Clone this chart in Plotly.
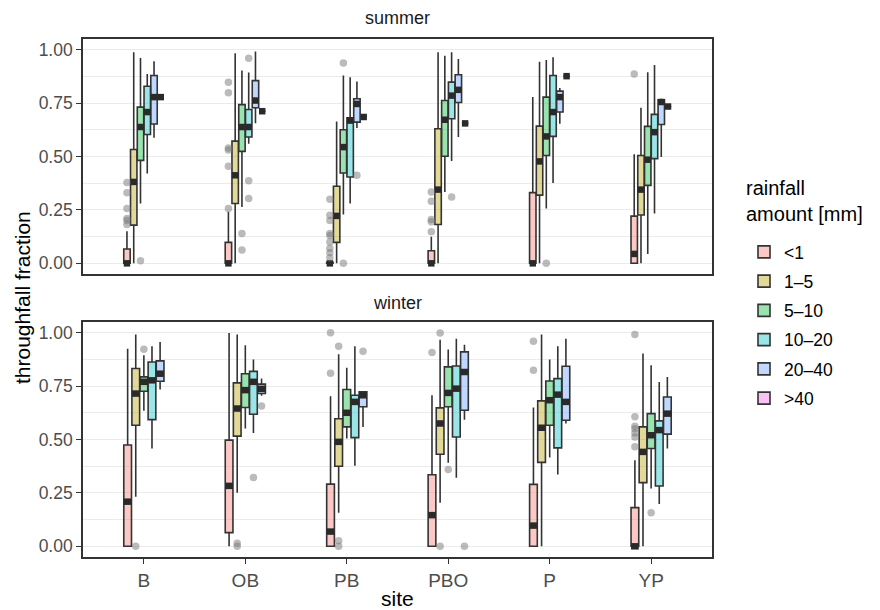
import plotly.graph_objects as go

sites = ["B", "OB", "PB", "PBO", "P", "YP"]
categories = ["<1", "1–5", "5–10", "10–20", "20–40", ">40"]
fill_colors = ["rgba(248,118,109,0.4)", "rgba(183,159,0,0.4)", "rgba(0,186,56,0.4)",
               "rgba(0,191,196,0.4)", "rgba(97,156,255,0.4)", "rgba(245,100,227,0.4)"]
y_tick_vals = [0, 0.25, 0.5, 0.75, 1.0]
y_tick_labels = ["0.00", "0.25", "0.50", "0.75", "1.00"]

# ---- summer: one row per rainfall category, one column per site ----
summer_q1 = [
    [0, 0, 0, 0, 0, 0],
    [0.179, 0.28, 0.098, 0.182, 0.319, 0.226],
    [0.482, 0.524, 0.423, 0.501, 0.505, 0.365],
    [0.603, 0.591, 0.404, 0.677, 0.594, 0.49],
    [0.652, 0.728, 0.661, 0.753, 0.708, 0.65],
    [0.778, 0.712, 0.685, 0.655, 0.876, 0.734],
]
summer_median = [
    [0, 0, 0, 0, 0, 0.044],
    [0.381, 0.412, 0.222, 0.345, 0.477, 0.345],
    [0.638, 0.638, 0.544, 0.672, 0.594, 0.485],
    [0.708, 0.638, 0.668, 0.785, 0.708, 0.614],
    [0.778, 0.762, 0.746, 0.812, 0.778, 0.755],
    [0.778, 0.712, 0.685, 0.655, 0.876, 0.734],
]
summer_q3 = [
    [0.067, 0.098, 0.005, 0.059, 0.331, 0.221],
    [0.533, 0.572, 0.361, 0.63, 0.642, 0.505],
    [0.731, 0.743, 0.625, 0.762, 0.778, 0.641],
    [0.829, 0.72, 0.681, 0.848, 0.879, 0.697],
    [0.879, 0.855, 0.77, 0.883, 0.806, 0.765],
    [0.778, 0.712, 0.685, 0.655, 0.876, 0.734],
]
summer_low = [
    [0, 0, 0, 0, 0, 0],
    [0, 0, 0, 0, 0, 0],
    [0.28, 0.264, 0.229, 0.334, 0.257, 0.044],
    [0.42, 0.56, 0.28, 0.479, 0.376, 0.233],
    [0.588, 0.656, 0.633, 0.591, 0.653, 0.498],
    [0.778, 0.712, 0.685, 0.655, 0.876, 0.734],
]
summer_high = [
    [0.15, 0.241, 0.01, 0.124, 0.778, 0.51],
    [0.988, 0.983, 0.664, 0.988, 0.944, 0.728],
    [0.961, 0.902, 0.879, 0.972, 0.952, 0.894],
    [0.886, 0.893, 0.871, 0.988, 0.964, 0.928],
    [0.946, 0.992, 0.851, 0.956, 0.821, 0.77],
    [0.778, 0.712, 0.685, 0.655, 0.876, 0.734],
]
summer_out_site = ["B"] * 6 + ["B"] + ["OB"] * 6 + ["OB"] * 2 + ["OB"] * 3 + ["PB"] * 9 + ["PB"] * 2 + ["PB"] \
    + ["PBO"] * 5 + ["PBO"] + ["P"] + ["YP"]
summer_out_cat = [0] * 6 + [2] + [0] * 6 + [2] * 2 + [3] * 3 + [0] * 9 + [2] * 2 + [4] \
    + [0] * 5 + [3] + [2] + [0]
summer_out_value = [0.378, 0.33, 0.257, 0.21, 0.2, 0.182,
                    0.012,
                    0.848, 0.798, 0.54, 0.53, 0.454, 0.257,
                    0.14, 0.062,
                    0.96, 0.386, 0.303,
                    0.30, 0.225, 0.2, 0.14, 0.13, 0.1, 0.07, 0.05, 0.026,
                    0.938, 0.0,
                    0.412,
                    0.334, 0.291, 0.205, 0.194, 0.148,
                    0.311,
                    0.0,
                    0.886]

# ---- winter (no >40 events) ----
winter_q1 = [
    [0, 0.064, 0, 0, 0, 0],
    [0.567, 0.516, 0.375, 0.431, 0.393, 0.298],
    [0.726, 0.65, 0.559, 0.653, 0.567, 0.458],
    [0.593, 0.618, 0.509, 0.512, 0.461, 0.282],
    [0.773, 0.715, 0.653, 0.637, 0.59, 0.525],
]
winter_median = [
    [0.209, 0.283, 0.069, 0.146, 0.097, 0.0],
    [0.715, 0.645, 0.489, 0.575, 0.555, 0.442],
    [0.77, 0.731, 0.625, 0.718, 0.684, 0.52],
    [0.777, 0.77, 0.676, 0.738, 0.71, 0.544],
    [0.808, 0.737, 0.707, 0.816, 0.676, 0.621],
]
winter_q3 = [
    [0.474, 0.497, 0.291, 0.335, 0.29, 0.181],
    [0.832, 0.765, 0.597, 0.648, 0.681, 0.559],
    [0.793, 0.808, 0.734, 0.84, 0.774, 0.621],
    [0.863, 0.819, 0.707, 0.844, 0.785, 0.587],
    [0.868, 0.759, 0.723, 0.91, 0.843, 0.699],
]
winter_low = [
    [0, 0, 0, 0, 0, 0],
    [0.232, 0.251, 0.157, 0.204, 0, 0],
    [0.634, 0.551, 0.505, 0.391, 0.416, 0.271],
    [0.458, 0.531, 0.377, 0.321, 0.336, 0.198],
    [0.734, 0.705, 0.559, 0.593, 0.575, 0.458],
]
winter_high = [
    [0.925, 0.998, 0.703, 0.707, 0.65, 0.403],
    [0.991, 0.992, 0.899, 0.967, 0.991, 0.902],
    [0.894, 0.941, 0.836, 0.921, 0.874, 0.847],
    [0.936, 0.874, 0.936, 0.972, 0.936, 0.769],
    [0.956, 0.785, 0.725, 0.944, 0.972, 0.793],
]
winter_out_site = ["B", "B", "OB", "OB", "OB", "OB", "PB", "PB", "PB", "PB", "PB", "PB",
                   "PBO", "PBO", "PBO", "PBO", "PBO", "P", "P",
                   "YP", "YP", "YP", "YP", "YP", "YP", "YP", "YP"]
winter_out_cat = [1, 2, 1, 1, 3, 4, 0, 0, 1, 1, 1, 4,
                  0, 1, 1, 2, 4, 0, 0,
                  0, 0, 0, 0, 0, 0, 0, 2]
winter_out_value = [0.0, 0.922, 0.014, 0.0, 0.322, 0.657, 1.0, 0.81, 0.936, 0.026, 0.0, 0.913,
                    0.907, 0.998, 0.0, 0.36, 0.0, 0.96, 0.824,
                    0.991, 0.606, 0.562, 0.55, 0.531, 0.512, 0.466, 0.157]

DODGE = 0.4
FONT = "Liberation Sans, Arial, Helvetica, sans-serif"
LINE = "#333333"


def slot_pos(site_idx, k, n):
    return site_idx + (k - (n - 1) / 2) * DODGE / n


fig = go.Figure()

seasons = [
    ("x", "y", summer_q1, summer_median, summer_q3, summer_low, summer_high,
     summer_out_site, summer_out_cat, summer_out_value, True),
    ("x2", "y2", winter_q1, winter_median, winter_q3, winter_low, winter_high,
     winter_out_site, winter_out_cat, winter_out_value, False),
]

for xa, ya, q1s, meds, q3s, lows, highs, o_site, o_cat, o_val, show_leg in seasons:
    n = len(q1s)
    w = DODGE / n * 0.95
    med_x, med_y = [], []
    for k in range(n):
        xs = [slot_pos(i, k, n) for i in range(len(sites))]
        fig.add_trace(go.Box(
            x=xs, q1=q1s[k], median=meds[k], q3=q3s[k],
            lowerfence=lows[k], upperfence=highs[k],
            width=w, whiskerwidth=0, boxpoints=False,
            fillcolor=fill_colors[k], line=dict(color=LINE, width=1.6),
            name=categories[k], legendgroup=categories[k], showlegend=show_leg,
            xaxis=xa, yaxis=ya, hoverinfo="skip",
        ))
        for i, xv in enumerate(xs):
            med_x += [xv - w / 2, xv + w / 2, None]
            med_y += [meds[k][i], meds[k][i], None]
    fig.add_trace(go.Scatter(
        x=med_x, y=med_y, mode="lines", line=dict(color="#2a2a2a", width=6.5),
        showlegend=False, xaxis=xa, yaxis=ya, hoverinfo="skip",
    ))
    fig.add_trace(go.Scatter(
        x=[slot_pos(sites.index(s), c, n) for s, c in zip(o_site, o_cat)],
        y=o_val, mode="markers",
        marker=dict(color="rgba(120,120,120,0.5)", size=7.5, line=dict(width=0)),
        showlegend=False, xaxis=xa, yaxis=ya, hoverinfo="skip",
    ))

axis_common = dict(
    showline=True, mirror=True, linecolor=LINE, linewidth=1.6,
    ticks="outside", ticklen=5, tickcolor=LINE, tickwidth=1.4,
    tickfont=dict(family=FONT, size=17.5, color="#4D4D4D"), zeroline=False,
)
yaxis_cfg = dict(
    axis_common, range=[-0.05, 1.05], tickvals=y_tick_vals, ticktext=y_tick_labels,
    showgrid=True, gridcolor="#EBEBEB", gridwidth=1.4,
    minor=dict(tickvals=[0.125, 0.375, 0.625, 0.875], showgrid=True,
               gridcolor="#EBEBEB", gridwidth=1.2, ticks=""),
)
xaxis_cfg = dict(axis_common, range=[-0.6, 5.6], tickvals=list(range(len(sites))),
                 ticktext=sites, showgrid=False)

top_bottom = (557 - 274) / 518
bot_top = (557 - 322) / 518


def py(pix):
    return (557 - pix) / 518


def px(pix):
    return (pix - 83) / 629


fig.update_layout(
    width=880, height=610,
    margin=dict(l=83, r=168, t=39, b=53),
    paper_bgcolor="white", plot_bgcolor="white",
    font=dict(family=FONT, color="#1A1A1A"),
    xaxis=dict(xaxis_cfg, anchor="y", showticklabels=False, ticks=""),
    yaxis=dict(yaxis_cfg, anchor="x", domain=[top_bottom, 1]),
    xaxis2=dict(xaxis_cfg, anchor="y2", tickfont=dict(family=FONT, size=19, color="#4D4D4D")),
    yaxis2=dict(yaxis_cfg, anchor="x2", domain=[0, bot_top]),
    legend=dict(
        x=px(744), xanchor="left", y=py(234), yanchor="top",
        font=dict(family=FONT, size=17.5, color="#000000"),
        tracegroupgap=3.5, bgcolor="rgba(0,0,0,0)",
    ),
    annotations=[
        dict(text="summer", x=0.5, y=py(18), xref="paper", yref="paper", yanchor="middle",
             showarrow=False, font=dict(family=FONT, size=18, color="#1A1A1A")),
        dict(text="winter", x=0.5, y=py(303), xref="paper", yref="paper", yanchor="middle",
             showarrow=False, font=dict(family=FONT, size=18, color="#1A1A1A")),
        dict(text="site", x=0.5, y=py(598), xref="paper", yref="paper", yanchor="middle",
             showarrow=False, font=dict(family=FONT, size=21, color="#000000")),
        dict(text="throughfall fraction", x=px(22), y=0.5, xref="paper", yref="paper",
             xanchor="center", yanchor="middle",
             textangle=-90, showarrow=False, font=dict(family=FONT, size=21, color="#000000")),
        dict(text="rainfall<br>amount [mm]", x=px(744), y=py(201), xref="paper", yref="paper",
             xanchor="left", yanchor="middle", align="left",
             showarrow=False, font=dict(family=FONT, size=20, color="#000000")),
    ],
)

fig.write_html("out.html")
